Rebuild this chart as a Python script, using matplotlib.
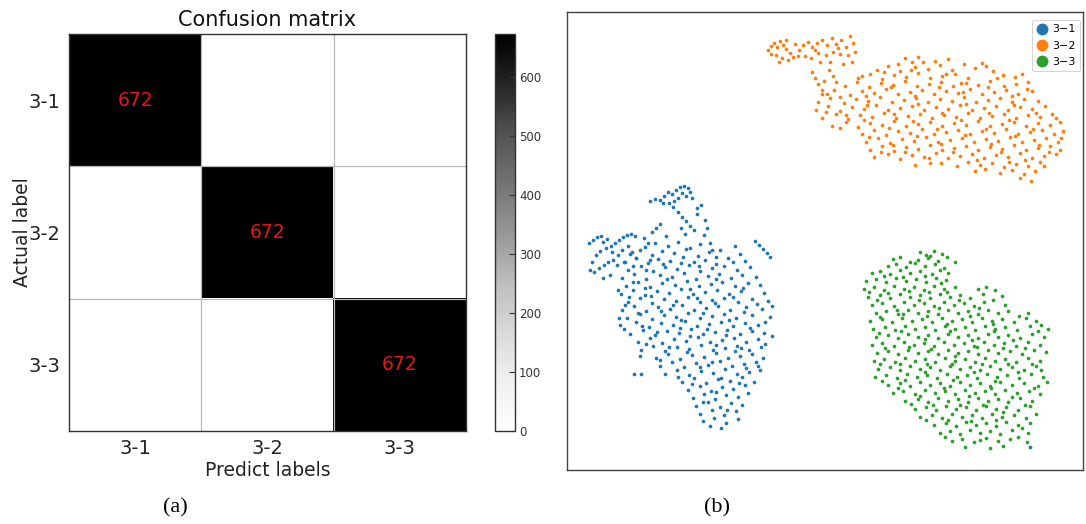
import matplotlib
matplotlib.use("Agg")
import matplotlib.pyplot as plt
from matplotlib.lines import Line2D
import numpy as np

# ---------------- data ----------------
classes = ["3-1", "3-2", "3-3"]
legend_labels = ["3\u22121", "3\u22122", "3\u22123"]
cm_values = [[672, 0, 0],
             [0, 672, 0],
             [0, 0, 672]]
cbar_ticks = [0, 100, 200, 300, 400, 500, 600]
colors = ["#1f77b4", "#ff7f0e", "#2ca02c"]

# t-SNE embedding points (x, y in embedding units)
tsne_31 = [
    (650,201),(655,199),(660,200),(664,196),(668,192),(672,194),(676,190),(680,187),(684,186),(688,188),
    (682,193),(678,198),(686,196),(690,192),(674,201),(669,203),(663,203),(692,198),
    (678,212),(682,217),(686,221),(690,226),(694,230),(681,228),(685,234),(697,214),
    (652,232),(656,228),(660,224),(666,236),(705,220),(707,228),(704,235),(710,243),
    (589,243),(593,240),(597,237),(601,236),(603,242),(607,239),(611,246),(615,243),(619,240),(623,237),
    (627,235),(631,234),(635,236),(622,250),(618,255),(612,252),(606,248),(600,251),(596,255),(592,262),
    (590,270),(594,272),(599,268),(604,265),(608,262),(613,260),(617,265),(610,275),(603,278),(628,246),
    (632,252),(636,258),(625,262),
    (755,241),(759,245),(763,249),(767,253),(770,257),(772,336),(1030,447),
    (645,247),(655,243),(668,246),(678,242),(690,248),(700,244),(712,250),(735,246),
    (630,254),(640,250),(652,255),(662,251),(674,253),(686,249),(698,256),(709,252),(720,250),(740,254),
    (624,262),(636,258),(648,263),(658,259),(670,261),(683,257),(694,262),(705,260),(716,264),(728,258),(745,261),
    (628,270),(641,266),(653,271),(665,267),(677,269),(689,265),(700,271),(712,268),(724,266),(737,270),(750,267),
    (622,278),(634,274),(646,279),(660,275),(672,277),(684,273),(696,279),(708,276),(719,274),(731,278),(742,275),(756,277),
    (626,286),(638,282),(650,287),(662,283),(675,285),(687,281),(699,286),(711,284),(722,282),(735,286),(748,283),(760,285),
    (621,294),(633,290),(645,295),(657,291),(669,293),(681,289),(693,294),(705,292),(717,290),(729,294),(741,291),(764,293),
    (628,302),(640,298),(652,303),(664,299),(676,301),(688,297),(700,302),(712,300),(724,298),(738,302),(752,299),(768,301),
    (622,310),(634,306),(646,311),(658,307),(670,309),(682,305),(694,310),(706,308),(718,306),(730,310),(746,307),(762,309),(772,306),
    (627,318),(640,314),(652,319),(664,315),(676,317),(688,313),(700,318),(712,316),(724,314),(736,318),(752,315),(770,317),
    (620,325),(624,329),(636,322),(649,327),(661,323),(673,325),(685,321),(697,326),(709,324),(721,322),(733,326),(745,323),(758,325),
    (630,334),(643,330),(655,335),(667,331),(679,333),(691,329),(703,334),(715,332),(727,330),(740,334),(752,331),(764,333),
    (638,342),(650,338),(662,343),(674,339),(686,341),(698,337),(710,342),(722,340),(734,338),(746,342),(758,339),
    (641,350),(653,346),(665,351),(677,347),(689,349),(701,345),(713,350),(725,348),(737,346),(749,350),(761,347),
    (640,356),(656,358),(668,354),(680,359),(692,355),(704,357),(716,353),(728,358),(740,356),(752,354),(763,358),
    (660,366),(672,362),(684,367),(696,363),(708,365),(720,361),(732,366),(744,364),(756,362),
    (634,374),(641,374),(665,374),(677,370),(689,375),(701,371),(713,373),(725,369),(737,374),(749,372),(760,370),
    (682,382),(694,378),(706,383),(718,379),(730,381),(742,377),(754,382),
    (688,390),(700,386),(711,391),(722,387),(733,389),(745,385),
    (693,398),(704,394),(715,399),(726,395),(738,397),(748,393),
    (696,406),(708,402),(720,407),(731,403),(742,405),
    (700,414),(712,410),(724,415),(736,411),
    (703,421),(714,418),(726,423),(738,419),(721,428),
    (650,260),(663,264),(681,263),(699,266),(716,257),(733,262),
    (633,282),(645,288),(667,279),(690,289),(716,279),(743,288),
    (629,297),(651,296),(673,305),(697,298),(715,303),(733,297),(757,304),
    (638,313),(661,311),(681,320),(703,313),(729,320),(744,312),(765,322),
    (642,326),(657,332),(680,328),(707,329),(726,335),(750,328),
    (646,344),(669,347),(690,336),(716,345),(741,348),(765,344),
    (660,360),(687,352),(712,362),(735,351),(758,366),
    (678,377),(700,367),(721,378),(746,368),
    (692,384),(716,392),(739,383),(703,402),(727,410),(710,426),
    (646,270),(633,266),(618,290),(625,305),(619,318),
    (697,208),(701,205),(673,207),(644,238),(648,243),
]

tsne_32 = [
    (768,50),(771,46),(774,43),(777,47),(780,41),(783,45),(786,49),(790,53),(793,57),(788,60),(782,58),(776,55),
    (771,54),(779,62),(795,44),(799,50),
    (803,45),(808,42),(812,47),(817,43),(822,40),(827,45),(832,38),(836,44),(841,40),(846,47),(850,36),(853,43),
    (855,52),(848,55),(840,54),(833,52),(826,55),(818,53),(811,58),(805,56),(820,62),(830,62),(843,64),(852,62),
    (812,72),(815,78),(818,84),(822,90),(829,70),(833,76),(836,82),(827,94),
    (905,58),(912,62),(918,57),(935,61),(948,59),(982,63),
    (877,70),(888,66),(900,71),(915,67),(928,69),(940,65),(952,70),(975,68),(986,66),(993,71),
    (858,78),(870,74),(882,79),(894,75),(906,77),(918,73),(930,78),(942,76),(955,74),(968,78),(1003,75),(1015,77),(1022,74),
    (845,86),(857,82),(869,87),(881,83),(893,85),(905,81),(917,86),(929,84),(941,82),(953,86),(966,83),(978,85),
    (990,81),(1004,86),(1016,84),(1028,82),
    (822,94),(834,90),(850,95),(862,91),(874,93),(886,89),(898,94),(910,92),(922,90),(934,94),(946,91),(958,93),
    (970,89),(982,94),(994,92),(1006,90),(1018,94),(1032,91),
    (818,102),(830,98),(844,103),(856,99),(868,101),(880,97),(892,102),(904,100),(916,98),(928,102),(940,99),
    (952,101),(964,97),(976,102),(988,100),(1000,98),(1012,102),(1024,99),(1038,101),
    (816,110),(828,106),(840,111),(852,107),(864,109),(876,105),(888,110),(900,108),(912,106),(924,110),(936,107),
    (948,109),(960,105),(972,110),(984,108),(996,106),(1008,110),(1020,107),(1032,109),(1045,106),
    (822,118),(836,114),(848,119),(860,115),(872,117),(884,113),(896,118),(908,116),(920,114),(932,118),(944,115),
    (956,117),(968,113),(980,118),(992,116),(1004,114),(1016,118),(1028,115),(1040,117),(1052,114),
    (832,126),(846,122),(858,127),(870,123),(882,125),(894,121),(906,126),(918,124),(930,122),(942,126),(954,123),
    (966,125),(978,121),(990,126),(1002,124),(1014,122),(1026,126),(1038,123),(1050,125),(1060,122),
    (862,134),(874,130),(886,135),(898,131),(910,133),(922,129),(934,134),(946,132),(958,130),(970,134),(982,131),
    (994,133),(1006,129),(1018,134),(1030,132),(1042,130),(1054,134),(1063,131),
    (866,142),(878,138),(890,143),(902,139),(914,141),(926,137),(938,142),(950,140),(962,138),(974,142),(986,139),
    (998,141),(1010,137),(1022,142),(1034,140),(1046,138),(1058,142),
    (870,150),(882,146),(894,151),(906,147),(918,149),(930,145),(942,150),(954,148),(966,146),(978,150),(990,147),
    (1002,149),(1014,145),(1026,150),(1038,148),(1050,146),(1060,150),
    (874,157),(888,154),(900,159),(912,155),(924,157),(936,153),(948,158),(960,156),(972,154),(984,158),(996,155),
    (1008,157),(1020,153),(1032,158),(1044,156),(1056,154),
    (915,165),(930,163),(957,166),(968,162),(980,165),(992,163),(1004,167),(1016,164),(1028,166),(1040,162),
    (975,171),(1000,173),(1012,170),(1024,174),(1035,171),(1031,181),
    (862,76),(884,72),(911,70),(946,74),(961,83),(997,78),
    (840,97),(866,96),(891,87),(915,96),(939,87),(963,92),(988,87),(1012,96),(1027,89),
    (826,112),(846,115),(867,105),(894,114),(918,104),(942,113),(966,104),(989,113),(1014,105),(1036,113),
    (840,128),(864,120),(889,128),(913,121),(937,129),(961,120),(986,129),(1009,120),(1033,129),(1056,118),
    (869,137),(893,145),(917,136),(941,144),(965,135),(991,144),(1015,136),(1039,145),(1061,138),
    (881,152),(905,152),(929,158),(953,152),(977,160),(1001,152),(1025,160),(1049,152),
    (941,163),(985,169),(1009,162),(1020,178),(1044,166),
    (898,64),(923,62),(964,64),(786,40),(798,56),(815,50),(838,48),(824,81),
]

tsne_33 = [
    (920,252),(926,255),(934,251),(942,254),
    (893,259),(900,257),(918,260),(928,258),(938,261),(947,257),(955,262),
    (888,266),(896,264),(906,267),(915,263),(925,266),(935,264),(944,268),
    (872,273),(880,271),(890,274),(900,270),(910,273),(920,271),(932,274),(940,270),(948,273),
    (866,281),(876,279),(886,282),(896,278),(906,281),(916,279),(926,282),(936,278),(946,280),
    (864,289),(874,287),(884,290),(894,286),(904,289),(914,287),(924,290),(934,286),(944,289),(955,287),(978,289),(986,287),(995,290),
    (868,297),(880,295),(890,298),(900,294),(910,297),(920,295),(930,298),(940,294),(950,297),(960,295),(970,298),(1002,296),
    (872,305),(882,303),(894,306),(904,302),(914,305),(924,303),(934,306),(944,302),(954,305),(964,303),(974,306),(984,302),(1005,305),
    (876,313),(886,311),(898,314),(908,310),(918,313),(928,311),(938,314),(948,310),(958,313),(968,311),(978,314),(988,310),
    (998,313),(1008,311),(1028,313),
    (870,321),(882,319),(892,322),(902,318),(912,321),(922,319),(932,322),(942,318),(952,321),(962,319),(972,322),(982,318),
    (992,321),(1002,319),(1014,322),(1026,318),(1036,321),
    (873,329),(885,327),(895,330),(905,326),(915,329),(925,327),(935,330),(945,326),(955,329),(965,327),(975,330),(985,326),
    (995,329),(1005,327),(1017,330),(1030,326),(1048,329),
    (876,337),(888,335),(898,338),(908,334),(918,337),(928,335),(938,338),(948,334),(958,337),(968,335),(978,338),(988,334),
    (998,337),(1008,335),(1020,338),(1032,334),(1044,337),
    (872,345),(882,343),(894,346),(904,342),(914,345),(924,343),(934,346),(944,342),(954,345),(964,343),(974,346),(984,342),
    (994,345),(1004,343),(1016,346),(1028,342),(1040,345),
    (877,353),(888,351),(898,354),(908,350),(918,353),(928,351),(938,354),(948,350),(958,353),(968,351),(978,354),(988,350),
    (998,353),(1010,351),(1022,354),(1034,350),
    (874,361),(884,359),(895,362),(905,358),(915,361),(925,359),(935,362),(945,358),(955,361),(965,359),(975,362),(985,358),
    (995,361),(1005,359),(1016,362),(1028,358),(1040,361),
    (878,369),(890,367),(900,370),(910,366),(920,369),(930,367),(940,370),(950,366),(960,369),(970,367),(980,370),(990,366),
    (1000,369),(1012,367),(1024,370),(1036,366),
    (875,377),(886,375),(897,378),(907,374),(917,377),(927,375),(937,378),(947,374),(957,377),(967,375),(977,378),(987,374),
    (997,377),(1007,375),(1019,378),(1031,374),(1043,377),
    (888,385),(900,383),(910,386),(920,382),(930,385),(940,383),(950,386),(960,382),(970,385),(980,383),(990,386),(1000,382),
    (1012,385),(1024,383),(1038,386),
    (893,393),(903,391),(915,394),(925,390),(935,393),(945,391),(955,394),(965,390),(975,393),(985,391),(995,394),(1005,390),
    (1017,393),(1029,391),(1040,394),
    (905,401),(918,399),(928,402),(938,398),(948,401),(958,399),(968,402),(978,398),(988,401),(998,399),(1008,402),(1020,398),(1032,401),
    (915,409),(926,407),(936,410),(946,406),(956,409),(966,407),(976,410),(986,406),(996,409),(1006,407),(1018,410),(1030,406),
    (920,417),(932,415),(942,418),(952,414),(962,417),(972,415),(982,418),(992,414),(1002,417),(1014,415),(1026,418),(1036,414),
    (934,425),(946,423),(956,426),(966,422),(976,425),(986,423),(996,426),(1006,422),(1018,425),(1030,423),
    (940,433),(950,431),(960,434),(970,430),(980,433),(990,431),(1000,434),(1012,430),(1028,433),
    (952,441),(962,439),(974,442),(986,438),(998,441),(1010,439),(1027,442),
    (965,447),(990,448),(1003,446),
    (930,256),(910,262),(884,276),(903,277),(925,276),(941,283),
    (869,292),(888,293),(909,291),(929,292),(947,292),(983,294),
    (877,300),(897,310),(919,300),(939,308),(959,300),(979,308),(993,300),
    (880,317),(903,314),(927,316),(947,324),(970,316),(993,324),(1019,316),(1041,325),
    (879,333),(901,331),(925,339),(950,331),(972,340),(994,331),(1013,340),(1038,331),
    (885,348),(909,347),(931,349),(955,356),(977,347),(1003,348),(1025,348),(1046,352),
    (880,364),(900,364),(927,364),(952,364),(982,364),(1008,364),(1032,364),
    (882,381),(905,380),(925,372),(953,380),(974,372),(995,381),(1018,372),(1047,382),
    (898,388),(920,396),(944,388),(969,396),(991,388),(1012,397),(1034,388),
    (911,404),(933,405),(960,405),(983,405),(1003,412),(1025,405),
    (926,420),(948,420),(971,421),(996,420),(1022,428),(945,437),(980,440),(1018,437),(1041,370),
]

clusters = [tsne_31, tsne_32, tsne_33]

# ---------------- figure ----------------
W, H = 1086, 524
fig = plt.figure(figsize=(W / 100, H / 100), dpi=100)
plt.rcParams["font.family"] = ["DejaVu Sans"]

def box(x0, y0, x1, y1):
    return [x0 / W, 1 - y1 / H, (x1 - x0) / W, (y1 - y0) / H]

# ---- confusion matrix ----
ax = fig.add_axes(box(69, 34, 466, 431))
cm = np.array(cm_values)
im = ax.imshow(cm, cmap="Greys", vmin=0, vmax=cm.max(), aspect="auto",
               interpolation="nearest")
n = len(classes)
for k in range(1, n):
    ax.axhline(k - 0.5, color="#b8b8b8", lw=0.9)
    ax.axvline(k - 0.5, color="#b8b8b8", lw=0.9)
for i in range(n):
    for j in range(n):
        if cm[i, j] > 0:
            ax.text(j, i, str(cm[i, j]), ha="center", va="center",
                    color="#e8141c", fontsize=13.5)
ax.set_xticks(range(n))
ax.set_yticks(range(n))
ax.set_xticklabels(classes, fontsize=14, color="#222222")
ax.set_yticklabels(classes, fontsize=14, color="#222222")
ax.tick_params(length=0, pad=6)
ax.set_xlabel("Predict labels", fontsize=13.5, color="#222222", labelpad=2)
ax.set_ylabel("Actual label", fontsize=13.5, color="#222222", labelpad=-2)
ax.set_title("Confusion matrix", fontsize=15, color="#111111", pad=6)
for s in ax.spines.values():
    s.set_color("#333333")
    s.set_linewidth(1.0)

cax = fig.add_axes(box(495, 34, 515, 431))
cb = fig.colorbar(im, cax=cax, ticks=cbar_ticks)
cb.ax.tick_params(labelsize=8.5, direction="in", length=4, width=0.8,
                  colors="#333333", pad=3)
cb.outline.set_edgecolor("#333333")
cb.outline.set_linewidth(1.0)

# ---- t-SNE scatter ----
ax2 = fig.add_axes(box(567, 12, 1083, 470))
for pts, c in zip(clusters, colors):
    arr = np.array(pts, dtype=float)
    ax2.scatter(arr[:, 0], arr[:, 1], s=7, color=c, linewidths=0)
ax2.set_xlim(567, 1083)
ax2.set_ylim(470, 12)
ax2.set_xticks([])
ax2.set_yticks([])
for s in ax2.spines.values():
    s.set_color("#444444")
    s.set_linewidth(1.0)
handles = [Line2D([], [], marker="o", linestyle="", color=c, markersize=7.5)
           for c in colors]
leg = ax2.legend(handles, legend_labels, loc="upper right",
                 bbox_to_anchor=((1080 - 567) / 516, (470 - 20) / 458),
                 borderaxespad=0, fontsize=8, handlelength=1.0,
                 handletextpad=0.4, labelspacing=0.55, borderpad=0.4,
                 frameon=True, fancybox=True)
leg.get_frame().set_edgecolor("#cccccc")
leg.get_frame().set_linewidth(0.8)

# ---- captions ----
fig.text(175 / W, 1 - 508 / H, "(a)", family="Liberation Serif", fontsize=16,
         ha="center", va="center")
fig.text(717 / W, 1 - 508 / H, "(b)", family="Liberation Serif", fontsize=16,
         ha="center", va="center")

fig.savefig("out.png", dpi=100)
